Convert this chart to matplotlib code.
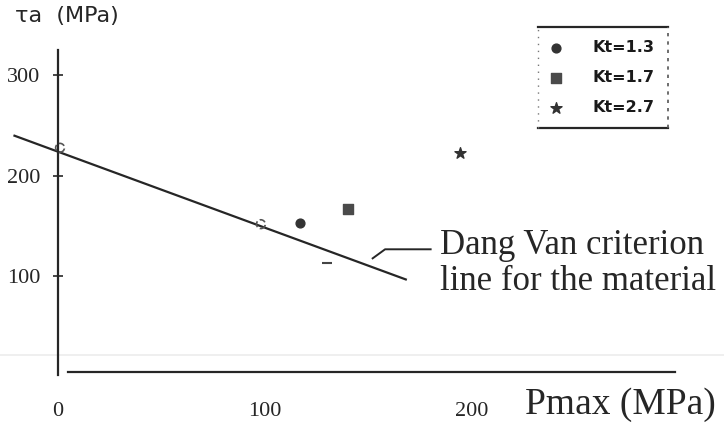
import numpy as np
import matplotlib
matplotlib.use("Agg")
import matplotlib.pyplot as plt
from matplotlib.lines import Line2D

# --- data ---
kt13_x = [117]
kt13_y = [153]
kt17_x = [140]
kt17_y = [167]
kt27_x = [194]
kt27_y = [223]
open_x = [1, 98]          # faint open markers lying on the criterion line
open_y = [228, 152]
dash_x = [130]
dash_y = [113]

crit_x = [-21, 168]       # Dang Van criterion line
crit_y = [240, 97]

lead_x = [152, 158, 180]  # leader line to the annotation
lead_y = [118, 127, 127]

xticks = [0, 100, 200]
yticks = [100, 200, 300]

ink = "#262626"
serif = ["Liberation Serif", "DejaVu Serif"]

fig = plt.figure(figsize=(7.24, 4.24), dpi=100)
ax = fig.add_axes([0, 0, 1, 1])
ax.set_xlim(-28, 321.7)
ax.set_ylim(-46.8, 375)
ax.patch.set_alpha(0)

# faint scan streak
ax.axhline(22, color="#ececec", lw=1.2, zorder=0)

for s in ["top", "right"]:
    ax.spines[s].set_visible(False)
ax.spines["left"].set_position(("data", 0))
ax.spines["left"].set_bounds(2, 325)
ax.spines["bottom"].set_position(("data", 5))
ax.spines["bottom"].set_bounds(5, 298)
for s in ["left", "bottom"]:
    ax.spines[s].set_color(ink)
    ax.spines[s].set_linewidth(1.6)

ax.set_xticks(xticks)
ax.set_yticks(yticks)
ax.tick_params(axis="x", length=0, pad=22, labelsize=16, colors=ink)
ax.tick_params(axis="y", direction="inout", length=7, width=1.2, pad=9,
               labelsize=16, colors=ink)
for lab in ax.get_xticklabels() + ax.get_yticklabels():
    lab.set_family(serif)

ax.plot(crit_x, crit_y, color=ink, lw=1.6)
ax.plot(lead_x, lead_y, color=ink, lw=1.4)

ax.scatter(open_x, open_y, marker="o", s=40, facecolors="none",
           edgecolors="#555555", linewidths=1.2, linestyle="--", zorder=3)
ax.scatter(dash_x, dash_y, marker="_", s=60, color="#444444", linewidths=1.5)
ax.scatter(kt13_x, kt13_y, marker="o", s=40, color="#333333", label="Kt=1.3", zorder=3)
ax.scatter(kt17_x, kt17_y, marker="s", s=45, color="#4a4a4a", label="Kt=1.7", zorder=3)
ax.scatter(kt27_x, kt27_y, marker="*", s=70, color="#333333", label="Kt=2.7", zorder=3)

leg = ax.legend(loc="upper left", bbox_to_anchor=(0.726, 0.94), frameon=False,
                handletextpad=1.3, labelspacing=0.95,
                prop={"family": "DejaVu Sans", "size": 11.5, "weight": "bold"},
                scatterpoints=1)
for t in leg.get_texts():
    t.set_color("#1a1a1a")

# legend box: solid top/bottom, dotted sides
x0, x1, y0, y1 = 0.743, 0.923, 0.698, 0.936
fig.add_artist(Line2D([x0, x1], [y1, y1], color=ink, lw=1.6))
fig.add_artist(Line2D([x0, x1], [y0, y0], color=ink, lw=1.6))
fig.add_artist(Line2D([x0, x0], [y0, y1], color="#777777", lw=1, ls=(0, (1, 4))))
fig.add_artist(Line2D([x1, x1], [y0, y1], color="#555555", lw=1.2, ls=(0, (2, 3))))

ax.text(440 / 724, 1 - 263 / 424, "Dang Van criterion\nline for the material",
        transform=ax.transAxes, family=serif, fontsize=25, color=ink,
        va="center", ha="left", linespacing=1.12)
ax.text(716 / 724, 1 - 405 / 424, "Pmax (MPa)", transform=ax.transAxes,
        family=serif, fontsize=27, color=ink, va="center", ha="right")
ax.text(15 / 724, 1 - 16 / 424, "τa  (MPa)", transform=ax.transAxes,
        family="DejaVu Sans", fontsize=16, color=ink, va="center", ha="left")

fig.savefig("out.png", dpi=100)
